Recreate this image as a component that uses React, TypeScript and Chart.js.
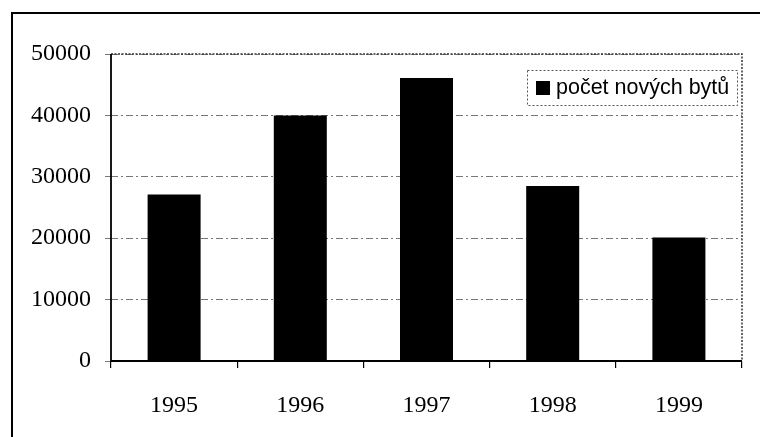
import React, { useEffect, useRef } from "react";
import { Chart, registerables } from "chart.js";

Chart.register(...registerables);

const categories = ["1995", "1996", "1997", "1998", "1999"];
const seriesLabel = "počet nových bytů";
const values = [27100, 40000, 46100, 28500, 20100];
const yMin = 0;
const yMax = 50000;
const yStep = 10000;

const SERIF = "'Liberation Serif', 'Times New Roman', serif";
const SANS = "'Liberation Sans', Arial, sans-serif";

const boxLegend = {
  id: "boxLegend",
  afterDraw(chart: any) {
    const ctx = chart.ctx;
    const ds = chart.data.datasets[0];
    const x0 = 527, y0 = 70, x1 = 737, y1 = 105;
    ctx.save();
    ctx.setLineDash([2, 2]);
    ctx.strokeStyle = "#555";
    ctx.lineWidth = 1;
    ctx.strokeRect(x0 + 0.5, y0 + 0.5, x1 - x0, y1 - y0);
    ctx.setLineDash([]);
    ctx.fillStyle = ds.backgroundColor;
    ctx.fillRect(536, 81, 14, 14);
    ctx.fillStyle = "#000";
    ctx.font = `21.5px ${SANS}`;
    ctx.textBaseline = "middle";
    ctx.textAlign = "left";
    ctx.fillText(ds.label, 556, 88);
    ctx.restore();
  },
};

const plotBorder = {
  id: "plotBorder",
  afterDatasetsDraw(chart: any) {
    const { ctx, chartArea } = chart;
    ctx.save();
    ctx.strokeStyle = "#333";
    ctx.lineWidth = 1.5;
    ctx.setLineDash([2, 1.5]);
    ctx.beginPath();
    ctx.moveTo(chartArea.left, chartArea.top);
    ctx.lineTo(chartArea.right, chartArea.top);
    ctx.lineTo(chartArea.right, chartArea.bottom);
    ctx.stroke();
    ctx.setLineDash([]);
    ctx.strokeStyle = "#000";
    ctx.lineWidth = 1.8;
    ctx.beginPath();
    ctx.moveTo(chartArea.left, chartArea.top);
    ctx.lineTo(chartArea.left, chartArea.bottom);
    ctx.lineTo(chartArea.right, chartArea.bottom);
    ctx.stroke();
    ctx.restore();
  },
};

export default function App() {
  const ref = useRef<HTMLCanvasElement>(null);
  useEffect(() => {
    if (!ref.current) return;
    const chart = new Chart(ref.current, {
      type: "bar",
      data: {
        labels: categories,
        datasets: [
          {
            label: seriesLabel,
            data: values,
            backgroundColor: "#000000",
            borderWidth: 0,
            categoryPercentage: 1,
            barPercentage: 0.42,
          },
        ],
      },
      plugins: [boxLegend, plotBorder],
      options: {
        responsive: false,
        animation: false,
        devicePixelRatio: 1,
        layout: { padding: { left: 0, right: 18, top: 54, bottom: 0 } },
        plugins: {
          legend: { display: false },
          tooltip: { enabled: false },
          title: { display: false },
        },
        scales: {
          x: {
            grid: {
              display: true,
              drawOnChartArea: false,
              offset: true,
              tickLength: 7,
              color: "#000",
              lineWidth: 1.2,
            },
            border: { display: false },
            ticks: {
              color: "#000",
              font: { family: SERIF, size: 24 },
              padding: 23,
              maxRotation: 0,
            },
            afterFit(scale: any) {
              scale.height = 76;
            },
          },
          y: {
            min: yMin,
            max: yMax,
            grid: {
              color: "#777",
              lineWidth: 1,
              tickLength: 6,
            },
            border: { display: false, dash: [7, 3, 2, 3] },
            ticks: {
              stepSize: yStep,
              color: "#000",
              font: { family: SERIF, size: 24 },
              padding: 14,
              callback: (v: any) => String(v),
            },
            afterFit(scale: any) {
              scale.width = 111;
            },
          },
        },
      },
    } as any);
    return () => chart.destroy();
  }, []);

  return (
    <div
      style={{
        position: "fixed",
        left: 0,
        top: 0,
        width: 760,
        height: 437,
        background: "#fff",
        overflow: "hidden",
      }}
    >
      <div
        style={{
          position: "absolute",
          left: 11,
          top: 12,
          width: 800,
          height: 500,
          borderLeft: "2px solid #000",
          borderTop: "2px solid #000",
        }}
      />
      <canvas
        ref={ref}
        width={760}
        height={437}
        style={{ position: "absolute", left: 0, top: 0, width: 760, height: 437 }}
      />
    </div>
  );
}
